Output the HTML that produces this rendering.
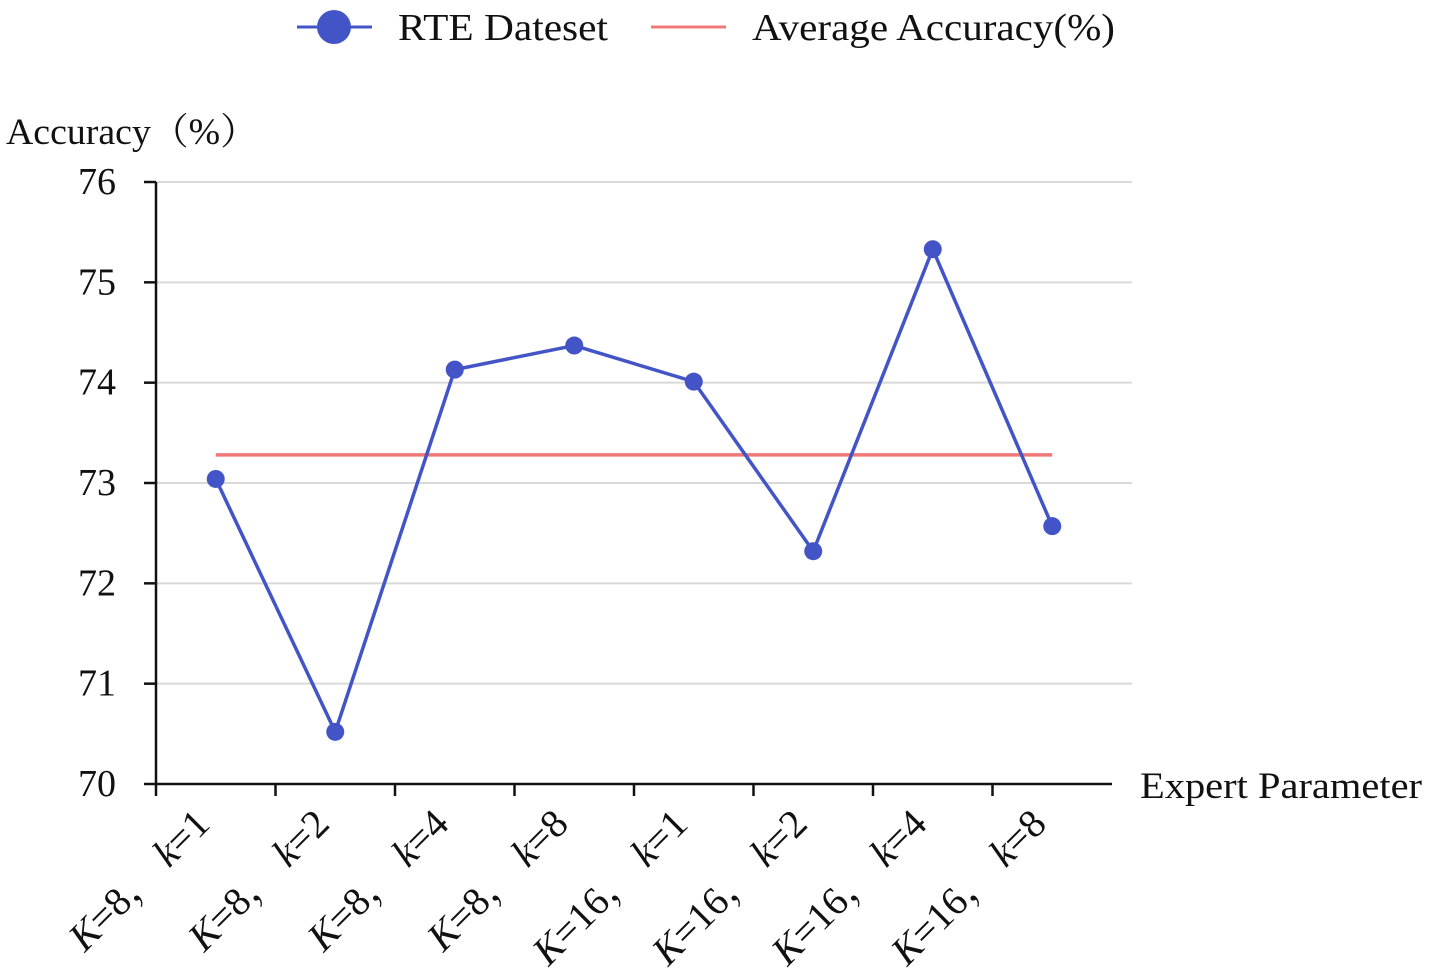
<!DOCTYPE html>
<html><head><meta charset="utf-8"><style>
body{margin:0;background:#fff}
svg{display:block;font-family:"Liberation Serif","Noto Serif CJK SC",serif}
</style></head><body>
<svg id="chart" width="1429" height="970" viewBox="0 0 1429 970">
<g>
 <g>
  <line x1="297" y1="27" x2="372" y2="27" stroke="#4355c6" stroke-width="3"/>
  <circle cx="334" cy="27" r="17" fill="#4355c6"/>
  <text x="398" y="40" font-size="38" fill="#111" textLength="210" lengthAdjust="spacingAndGlyphs">RTE Dateset</text>
 </g>
 <g>
  <line x1="651" y1="27" x2="726" y2="27" stroke="#f07878" stroke-width="3"/>
  <text x="752" y="40" font-size="38" fill="#111" textLength="363" lengthAdjust="spacingAndGlyphs">Average Accuracy(%)</text>
 </g>
</g>
<text x="6" y="144" font-size="37" fill="#111" textLength="252" lengthAdjust="spacingAndGlyphs">Accuracy（%）</text>
<text x="1140" y="798" font-size="37" fill="#111" textLength="282" lengthAdjust="spacingAndGlyphs">Expert Parameter</text>
<g id="grid"></g><g id="axes"></g><g id="marks"></g>
</svg>
<script>
const categories=[["K","=8， ","k","=1"],["K","=8， ","k","=2"],["K","=8， ","k","=4"],["K","=8， ","k","=8"],["K","=16， ","k","=1"],["K","=16， ","k","=2"],["K","=16， ","k","=4"],["K","=16， ","k","=8"]];
const accuracy=[73.04,70.52,74.13,74.37,74.01,72.32,75.33,72.57];
const averageAccuracy=73.28;
const yTicks=[70,71,72,73,74,75,76];
const NS="http://www.w3.org/2000/svg";
const x0=156,x1=1112,yB=784,yT=182,yMin=70,yMax=76;
const step=(x1-x0)/8;
function xs(i){return x0+step*(i+0.5);}
function ys(v){return yB-(v-yMin)/(yMax-yMin)*(yB-yT);}
function mk(p,tag,at){const e=document.createElementNS(NS,tag);for(const k in at)e.setAttribute(k,at[k]);p.appendChild(e);return e;}
const grid=document.getElementById('grid'),axes=document.getElementById('axes'),marks=document.getElementById('marks');
yTicks.forEach(t=>{
 if(t>yMin){const g=mk(grid,'line',{x1:x0,x2:1132,y1:ys(t),y2:ys(t),stroke:'#d9d9d9','stroke-width':2});
 
 }
 const tk=mk(axes,'line',{x1:x0-12,x2:x0,y1:ys(t),y2:ys(t),stroke:'#111','stroke-width':2.5});
 
 
 const tl=mk(axes,'text',{x:x0-40,y:ys(t)+12,'text-anchor':'end','font-size':38,fill:'#111'});
 tl.textContent=t;
 
 
});
const ya=mk(axes,'line',{x1:x0,x2:x0,y1:yT,y2:yB,stroke:'#111','stroke-width':2.5});


const xa=mk(axes,'line',{x1:x0,x2:x1,y1:yB,y2:yB,stroke:'#111','stroke-width':2.5});


for(let i=0;i<8;i++){
 const tk=mk(axes,'line',{x1:x0+step*i,x2:x0+step*i,y1:yB,y2:yB+12,stroke:'#111','stroke-width':2.5});
 
 
}
categories.forEach((c,i)=>{
 const cx=xs(i)-4,cy=826;
 const t=mk(axes,'text',{x:cx,y:cy,'text-anchor':'end','font-size':40,fill:'#111',transform:`rotate(-45 ${cx} ${cy})`});
 c.forEach((s,j)=>{const sp=mk(t,'tspan',{});if(j%2==0)sp.setAttribute('font-style','italic');sp.textContent=s;});
 
 
});
const avg=mk(marks,'line',{x1:xs(0),x2:xs(7),y1:ys(averageAccuracy),y2:ys(averageAccuracy),stroke:'#f07878','stroke-width':3.5});


const pl=mk(marks,'polyline',{points:accuracy.map((v,i)=>xs(i)+','+ys(v)).join(' '),fill:'none',stroke:'#4355c6','stroke-width':3.5,'stroke-linejoin':'round'});


accuracy.forEach((v,i)=>{
 const p=mk(marks,'circle',{cx:xs(i),cy:ys(v),r:9,fill:'#4355c6'});
 
 
});
</script>
</body></html>
